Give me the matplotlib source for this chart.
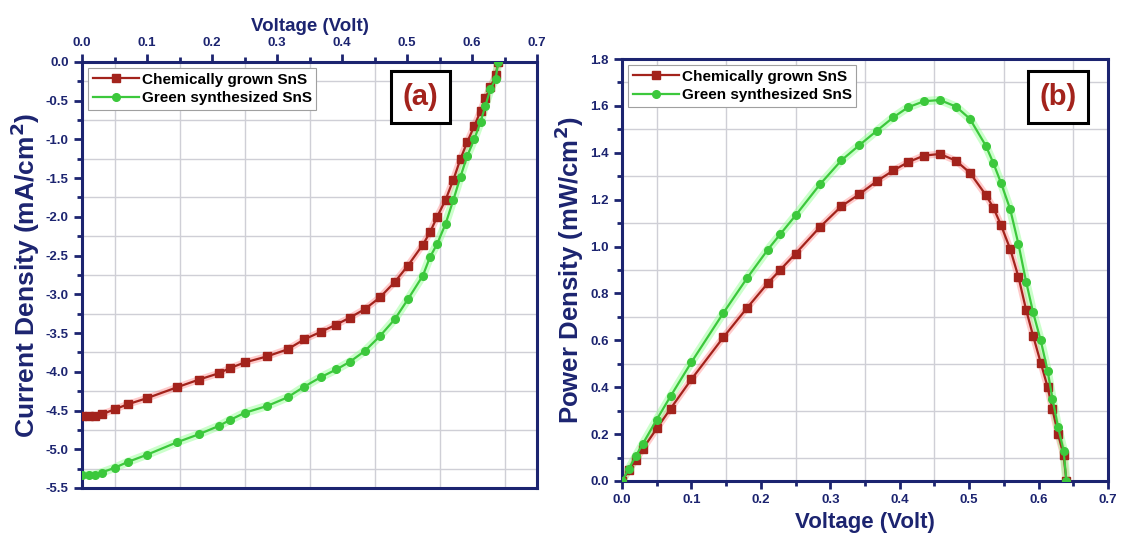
import matplotlib
matplotlib.use("Agg")
import matplotlib.pyplot as plt
from matplotlib.ticker import MultipleLocator

plt.rcParams['font.family'] = ['Liberation Sans', 'DejaVu Sans']
plt.rcParams['axes.unicode_minus'] = False

# voltage points (V), shared by both samples
voltage = [0.0, 0.01, 0.02, 0.03, 0.05, 0.07, 0.10, 0.146, 0.18, 0.21, 0.228, 0.25,
           0.285, 0.316, 0.342, 0.367, 0.391, 0.412, 0.435, 0.458, 0.481, 0.501,
           0.524, 0.535, 0.546, 0.559, 0.571, 0.582, 0.592, 0.603, 0.613, 0.62,
           0.628, 0.636, 0.64]

# current density (mA/cm2)
j_chem = [-4.57, -4.57, -4.57, -4.55, -4.485, -4.42, -4.34, -4.20, -4.10, -4.02, -3.95, -3.88,
          -3.80, -3.71, -3.58, -3.485, -3.39, -3.30, -3.19, -3.04, -2.84, -2.63,
          -2.36, -2.20, -2.00, -1.78, -1.52, -1.25, -1.04, -0.83, -0.63, -0.47,
          -0.33, -0.17, 0.0]
j_green = [-5.33, -5.33, -5.33, -5.30, -5.24, -5.165, -5.07, -4.91, -4.805, -4.70, -4.62, -4.53,
           -4.44, -4.33, -4.19, -4.07, -3.97, -3.87, -3.73, -3.54, -3.32, -3.065,
           -2.76, -2.52, -2.35, -2.09, -1.78, -1.48, -1.22, -1.00, -0.77, -0.57,
           -0.35, -0.22, 0.0]

# power density (mW/cm2)
p_chem = [0.0, 0.046, 0.091, 0.137, 0.224, 0.309, 0.434, 0.613, 0.738, 0.844, 0.901, 0.97,
          1.083, 1.172, 1.224, 1.279, 1.325, 1.360, 1.388, 1.395, 1.366, 1.315,
          1.22, 1.165, 1.09, 0.99, 0.87, 0.73, 0.62, 0.505, 0.40, 0.305,
          0.20, 0.11, 0.0]
p_green = [0.0, 0.053, 0.107, 0.159, 0.262, 0.362, 0.507, 0.717, 0.865, 0.987, 1.053, 1.133,
           1.265, 1.368, 1.433, 1.494, 1.552, 1.594, 1.62, 1.625, 1.597, 1.545,
           1.43, 1.355, 1.27, 1.16, 1.01, 0.85, 0.72, 0.60, 0.47, 0.35,
           0.23, 0.13, 0.0]

labels = ["Chemically grown SnS", "Green synthesized SnS"]

navy = "#1c2470"
red = "#a3231c"
red_glow = "#ff6b6b"
green = "#3cc83c"
green_glow = "#8cff8c"

fig = plt.figure(figsize=(11.24, 5.48), dpi=100)
ax1 = fig.add_axes([0.073, 0.1095, 0.405, 0.7775])
ax2 = fig.add_axes([0.5534, 0.1223, 0.4324, 0.77])


def draw(ax, x, y1, y2):
    ax.plot(x, y1, color=red_glow, lw=5, alpha=0.35, zorder=2)
    ax.plot(x, y2, color=green_glow, lw=6, alpha=0.45, zorder=2)
    ax.plot(x, y1, color=red, lw=1.6, marker='s', ms=5.5, label=labels[0], zorder=3)
    ax.plot(x, y2, color=green, lw=1.6, marker='o', ms=5.5, label=labels[1], zorder=3)


def style(ax):
    for s in ax.spines.values():
        s.set_color(navy)
        s.set_linewidth(2.2)
    ax.tick_params(which='major', direction='out', length=6, width=2, color=navy,
                   labelcolor=navy, labelsize=9.5)
    ax.tick_params(which='minor', direction='out', length=3.5, width=2, color=navy)
    for t in ax.get_xticklabels() + ax.get_yticklabels():
        t.set_fontweight('bold')
    ax.grid(which='minor', color='#cfcfd6', lw=1.0)
    ax.set_axisbelow(True)
    leg = ax.legend(loc='upper left', fontsize=11, handlelength=3.0, handletextpad=0.2,
                    borderpad=0.3, labelspacing=0.3, fancybox=False, framealpha=1,
                    borderaxespad=0.4)
    leg.get_frame().set_edgecolor('#a0a0a0')
    leg.get_frame().set_linewidth(0.8)
    for t in leg.get_texts():
        t.set_fontweight('bold')


# (a) J-V
draw(ax1, voltage, j_chem, j_green)
ax1.set_xlim(0, 0.7)
ax1.set_ylim(-5.5, 0.0)
ax1.xaxis.set_major_locator(MultipleLocator(0.1))
ax1.xaxis.set_minor_locator(MultipleLocator(0.05))
ax1.yaxis.set_major_locator(MultipleLocator(0.5))
ax1.yaxis.set_minor_locator(MultipleLocator(0.25))
ax1.xaxis.tick_top()
ax1.xaxis.set_label_position('top')
ax1.set_xlabel("Voltage (Volt)", fontsize=13.5, fontweight='bold', color=navy, labelpad=4)
ax1.set_ylabel("Current Density (mA/cm$^\\mathbf{2}$)", fontsize=19, fontweight='bold',
               color=navy, labelpad=3)
style(ax1)
ax1.text(0.743, 0.918, "(a)", transform=ax1.transAxes, ha='center', va='center',
         fontsize=21, fontweight='bold', color=red,
         bbox=dict(boxstyle='square,pad=0.4', fc='white', ec='black', lw=2.2))

# (b) P-V
draw(ax2, voltage, p_chem, p_green)
ax2.set_xlim(0, 0.7)
ax2.set_ylim(0, 1.8)
ax2.xaxis.set_major_locator(MultipleLocator(0.1))
ax2.xaxis.set_minor_locator(MultipleLocator(0.05))
ax2.yaxis.set_major_locator(MultipleLocator(0.2))
ax2.yaxis.set_minor_locator(MultipleLocator(0.1))
ax2.set_xlabel("Voltage (Volt)", fontsize=16, fontweight='bold', color=navy, labelpad=4)
ax2.set_ylabel("Power Density (mW/cm$^\\mathbf{2}$)", fontsize=18.5, fontweight='bold',
               color=navy, labelpad=3)
style(ax2)
ax2.text(0.897, 0.91, "(b)", transform=ax2.transAxes, ha='center', va='center',
         fontsize=21, fontweight='bold', color=red,
         bbox=dict(boxstyle='square,pad=0.4', fc='white', ec='black', lw=2.2))

fig.savefig("out.png", dpi=100)
